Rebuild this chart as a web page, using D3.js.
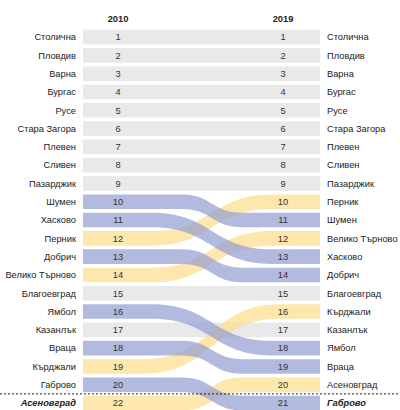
<!DOCTYPE html>
<html><head><meta charset="utf-8">
<script src="https://cdn.jsdelivr.net/npm/d3@7"></script>
<style>
html,body{margin:0;padding:0;background:#fff;}
svg{display:block;font-family:"Liberation Sans",Arial,sans-serif;}
</style></head>
<body>
<script>
const years = ["2010", "2019"];
const names2010 = ["Столична","Пловдив","Варна","Бургас","Русе","Стара Загора","Плевен","Сливен","Пазарджик","Шумен","Хасково","Перник","Добрич","Велико Търново","Благоевград","Ямбол","Казанлък","Враца","Кърджали","Габрово","Асеновград"];
const ranks2010 = [1,2,3,4,5,6,7,8,9,10,11,12,13,14,15,16,17,18,19,20,22];
const names2019 = ["Столична","Пловдив","Варна","Бургас","Русе","Стара Загора","Плевен","Сливен","Пазарджик","Перник","Шумен","Велико Търново","Хасково","Добрич","Благоевград","Кърджали","Казанлък","Ямбол","Враца","Асеновград","Габрово"];
const ranks2019 = [1,2,3,4,5,6,7,8,9,10,11,12,13,14,15,16,17,18,19,20,21];

const W = 400, H = 410;
const FS = 9.3;
const svg = d3.select("body").append("svg").attr("width", W).attr("height", H);

const n = names2010.length;
const y = d3.scaleBand().domain(d3.range(n)).range([27.9, 412.2]).paddingInner(0.2).paddingOuter(0.1);
const x = d3.scaleLinear().domain([0, 1]).range([83, 320]);
const xc = 212;
const h = y.bandwidth();

const colDown = "rgb(150,160,210)", colUp = "rgb(252,222,140)", colSame = "#e9e9e9";

const rows = names2010.map((nm, i) => ({name: nm, i, j: names2019.indexOf(nm)}));

// gray (unchanged) rows
svg.append("g").selectAll("rect").data(rows.filter(d => d.i === d.j)).join("rect")
  .attr("x", x(0)).attr("width", x(1) - x(0))
  .attr("y", d => y(d.i)).attr("height", h).attr("fill", colSame);

// moving bands
const moving = rows.filter(d => d.i !== d.j).sort((a, b) => (a.j > a.i) - (b.j > b.i) || 0);
svg.append("g").selectAll("path").data(moving).join("path")
  .attr("fill", d => d.j > d.i ? colDown : colUp)
  .attr("fill-opacity", 0.72)
  .attr("d", d => {
    const hw = Math.min(68, 30 * Math.abs(d.j - d.i));
    const xa = xc - hw, xb = xc + hw, xm = xc;
    const t0 = y(d.i), t1 = y(d.j), b0 = t0 + h, b1 = t1 + h;
    const p = d3.path();
    p.moveTo(x(0), t0); p.lineTo(xa, t0);
    p.bezierCurveTo(xm, t0, xm, t1, xb, t1);
    p.lineTo(x(1), t1); p.lineTo(x(1), b1); p.lineTo(xb, b1);
    p.bezierCurveTo(xm, b1, xm, b0, xa, b0);
    p.lineTo(x(0), b0); p.closePath();
    return p.toString();
  });

// headers
svg.append("g").selectAll("text").data(years).join("text")
  .attr("x", (d, k) => k === 0 ? 118 : 283).attr("y", 22)
  .attr("text-anchor", "middle").attr("font-size", FS).attr("font-weight", "bold").attr("fill", "#222")
  .text(d => d);

const yc = i => y(i) + h / 2;
const last = n - 1;

// left labels
svg.append("g").selectAll("text").data(names2010).join("text")
  .attr("x", 76).attr("y", (d, i) => yc(i)).attr("dy", "0.35em")
  .attr("text-anchor", "end").attr("font-size", FS).attr("fill", "#222")
  .attr("font-weight", (d, i) => i === last ? "bold" : null)
  .attr("font-style", (d, i) => i === last ? "italic" : null)
  .text(d => d);
// left numbers
svg.append("g").selectAll("text").data(ranks2010).join("text")
  .attr("x", 118).attr("y", (d, i) => yc(i)).attr("dy", "0.35em")
  .attr("text-anchor", "middle").attr("font-size", FS).attr("fill", "#333")
  .text(d => d);
// right numbers
svg.append("g").selectAll("text").data(ranks2019).join("text")
  .attr("x", 283).attr("y", (d, i) => yc(i)).attr("dy", "0.35em")
  .attr("text-anchor", "middle").attr("font-size", FS).attr("fill", "#333")
  .text(d => d);
// right labels
svg.append("g").selectAll("text").data(names2019).join("text")
  .attr("x", 327).attr("y", (d, i) => yc(i)).attr("dy", "0.35em")
  .attr("text-anchor", "start").attr("font-size", FS).attr("fill", "#222")
  .attr("font-weight", (d, i) => i === last ? "bold" : null)
  .attr("font-style", (d, i) => i === last ? "italic" : null)
  .text(d => d);

// dotted separator before last row
const sepY = (y(n - 2) + h + y(n - 1)) / 2;
svg.append("line").attr("x1", 0).attr("x2", W).attr("y1", sepY).attr("y2", sepY)
  .attr("stroke", "#222").attr("stroke-width", 1).attr("stroke-dasharray", "2,2");
</script>
</body></html>
